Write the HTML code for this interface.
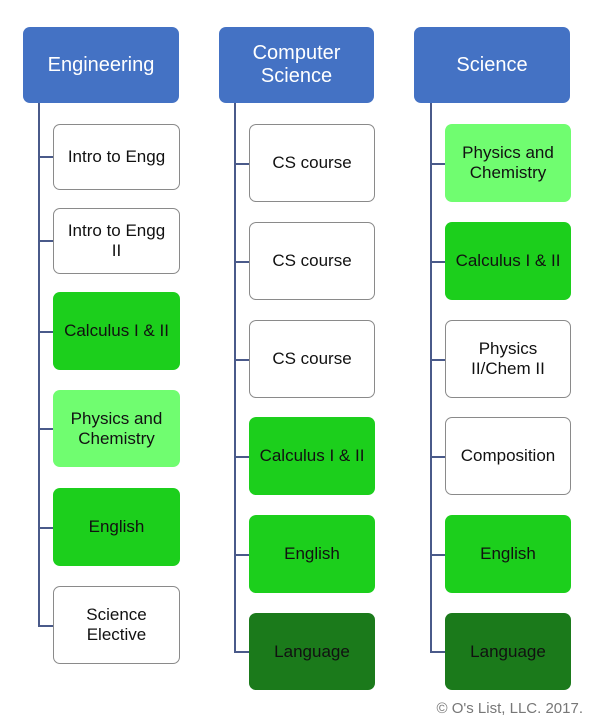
<!DOCTYPE html>
<html><head><style>
body{margin:0;width:600px;height:720px;background:#fff;position:relative;font-family:"Liberation Sans",sans-serif;overflow:hidden}
.b{position:absolute;box-sizing:border-box;border-radius:7px;display:flex;align-items:center;justify-content:center;text-align:center;font-size:17px;line-height:20px;color:#111}
.h{background:#4472c4;color:#fff;font-size:20px;line-height:23px}
.w{background:#fff;border:1px solid #8a8a8a}
.g{background:#1ccf1c}
.l{background:#70fd70}
.d{background:#1b7a1b}
.v{position:absolute;width:1.5px;background:#4a5a8a}
.t{position:absolute;height:1.5px;background:#4a5a8a}
.c{position:absolute;right:17px;bottom:3px;font-size:15px;color:#777}
</style></head><body>
<div class="b h" style="left:23px;top:27px;width:156px;height:76px">Engineering</div>
<div class="b h" style="left:219px;top:27px;width:155px;height:76px">Computer<br>Science</div>
<div class="b h" style="left:414px;top:27px;width:156px;height:76px">Science</div>

<div class="v" style="left:38px;top:103px;height:523px"></div>
<div class="v" style="left:234px;top:103px;height:549px"></div>
<div class="v" style="left:430px;top:103px;height:549px"></div>

<div class="t" style="left:38px;top:156px;width:15px"></div>
<div class="t" style="left:38px;top:240px;width:15px"></div>
<div class="t" style="left:38px;top:331px;width:15px"></div>
<div class="t" style="left:38px;top:428px;width:15px"></div>
<div class="t" style="left:38px;top:527px;width:15px"></div>
<div class="t" style="left:38px;top:625px;width:15px"></div>
<div class="b w" style="left:53px;top:124px;width:127px;height:66px">Intro to Engg</div>
<div class="b w" style="left:53px;top:208px;width:127px;height:66px">Intro to Engg<br>II</div>
<div class="b g" style="left:53px;top:292px;width:127px;height:78px">Calculus I &amp; II</div>
<div class="b l" style="left:53px;top:390px;width:127px;height:77px">Physics and<br>Chemistry</div>
<div class="b g" style="left:53px;top:488px;width:127px;height:78px">English</div>
<div class="b w" style="left:53px;top:586px;width:127px;height:78px">Science<br>Elective</div>

<div class="t" style="left:234px;top:163px;width:15px"></div>
<div class="t" style="left:234px;top:261px;width:15px"></div>
<div class="t" style="left:234px;top:359px;width:15px"></div>
<div class="t" style="left:234px;top:456px;width:15px"></div>
<div class="t" style="left:234px;top:554px;width:15px"></div>
<div class="t" style="left:234px;top:651px;width:15px"></div>
<div class="b w" style="left:249px;top:124px;width:126px;height:78px">CS course</div>
<div class="b w" style="left:249px;top:222px;width:126px;height:78px">CS course</div>
<div class="b w" style="left:249px;top:320px;width:126px;height:78px">CS course</div>
<div class="b g" style="left:249px;top:417px;width:126px;height:78px">Calculus I &amp; II</div>
<div class="b g" style="left:249px;top:515px;width:126px;height:78px">English</div>
<div class="b d" style="left:249px;top:613px;width:126px;height:77px">Language</div>

<div class="t" style="left:430px;top:163px;width:15px"></div>
<div class="t" style="left:430px;top:261px;width:15px"></div>
<div class="t" style="left:430px;top:359px;width:15px"></div>
<div class="t" style="left:430px;top:456px;width:15px"></div>
<div class="t" style="left:430px;top:554px;width:15px"></div>
<div class="t" style="left:430px;top:651px;width:15px"></div>
<div class="b l" style="left:445px;top:124px;width:126px;height:78px">Physics and<br>Chemistry</div>
<div class="b g" style="left:445px;top:222px;width:126px;height:78px">Calculus I &amp; II</div>
<div class="b w" style="left:445px;top:320px;width:126px;height:78px">Physics<br>II/Chem II</div>
<div class="b w" style="left:445px;top:417px;width:126px;height:78px">Composition</div>
<div class="b g" style="left:445px;top:515px;width:126px;height:78px">English</div>
<div class="b d" style="left:445px;top:613px;width:126px;height:77px">Language</div>

<div class="c">© O's List, LLC. 2017.</div>
</body></html>
